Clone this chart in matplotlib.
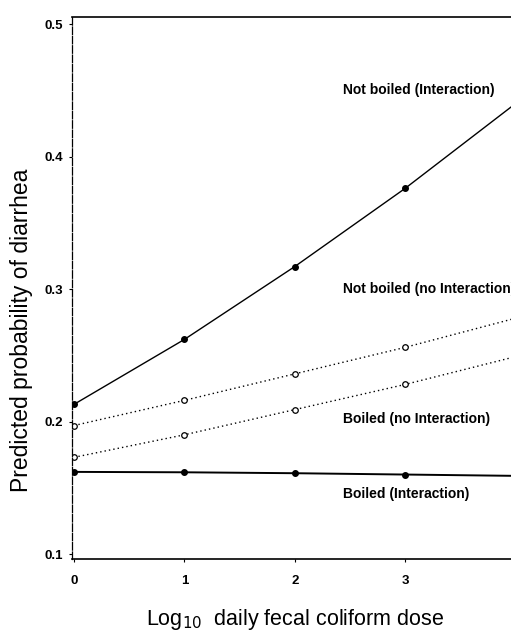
import matplotlib.pyplot as plt

dose = [0, 1, 2, 3, 4]
not_boiled_inter = [0.213, 0.262, 0.317, 0.376, 0.440]
not_boiled_noint = [0.197, 0.216, 0.236, 0.256, 0.278]
boiled_noint = [0.173, 0.190, 0.209, 0.228, 0.249]
boiled_inter = [0.162, 0.1617, 0.161, 0.160, 0.159]

labels = ["Not boiled (Interaction)", "Not boiled (no Interaction)",
          "Boiled (no Interaction)", "Boiled (Interaction)"]
label_pos = [(2.44, 0.450), (2.44, 0.300), (2.44, 0.202), (2.44, 0.145)]

plt.rcParams['font.family'] = ['Liberation Sans', 'DejaVu Sans']

fig = plt.figure(figsize=(5.11, 6.36), dpi=100)
ax = fig.add_axes([0.141, 0.121, 0.859, 0.852])

# solid lines with filled markers (interaction models)
ax.plot(dose, not_boiled_inter, color='black', lw=1.0, marker='o', ms=4,
        markevery=[0, 1, 2, 3])
ax.plot(dose, boiled_inter, color='black', lw=1.4, marker='o', ms=4,
        markevery=[0, 1, 2, 3])
# dotted lines with open markers (no interaction)
for vals in (not_boiled_noint, boiled_noint):
    ax.plot(dose, vals, color='black', lw=1.0, ls=(0, (1, 2.2)), marker='o', ms=4,
            mfc='white', mec='black', mew=0.9, markevery=[0, 1, 2, 3])

for txt, (x, y) in zip(labels, label_pos):
    ax.text(x, y, txt, fontsize=10, fontweight='bold', ha='left', va='center',
            clip_on=False)

ax.set_xlim(-0.018, 3.96)
ax.set_ylim(0.0962, 0.5053)
ax.set_xticks([0, 1, 2, 3])
ax.set_yticks([0.1, 0.2, 0.3, 0.4, 0.5])
ax.set_yticklabels(['0.1', '0.2', '0.3', '0.4', '0.5'])
ax.tick_params(labelsize=9.5, length=2.5, width=0.8, direction='out', pad=4)
ax.tick_params(axis='x', pad=9)
for lab in ax.get_xticklabels() + ax.get_yticklabels():
    lab.set_fontweight('bold')
ax.spines['right'].set_visible(False)
for s in ('left', 'top', 'bottom'):
    ax.spines[s].set_linewidth(1.2)
ax.spines['left'].set_linestyle((0, (6, 1.5)))
ax.spines['left'].set_linewidth(0.9)

ax.set_ylabel('Predicted probability of diarrhea', fontsize=16.5)
ax.set_xlabel('Log$_{10}$  daily fecal coliform dose', fontsize=15.5)
ax.yaxis.set_label_coords(-0.09, 0.4225)
ax.xaxis.set_label_coords(0.508, -0.089)

plt.savefig('out.png', dpi=100)
